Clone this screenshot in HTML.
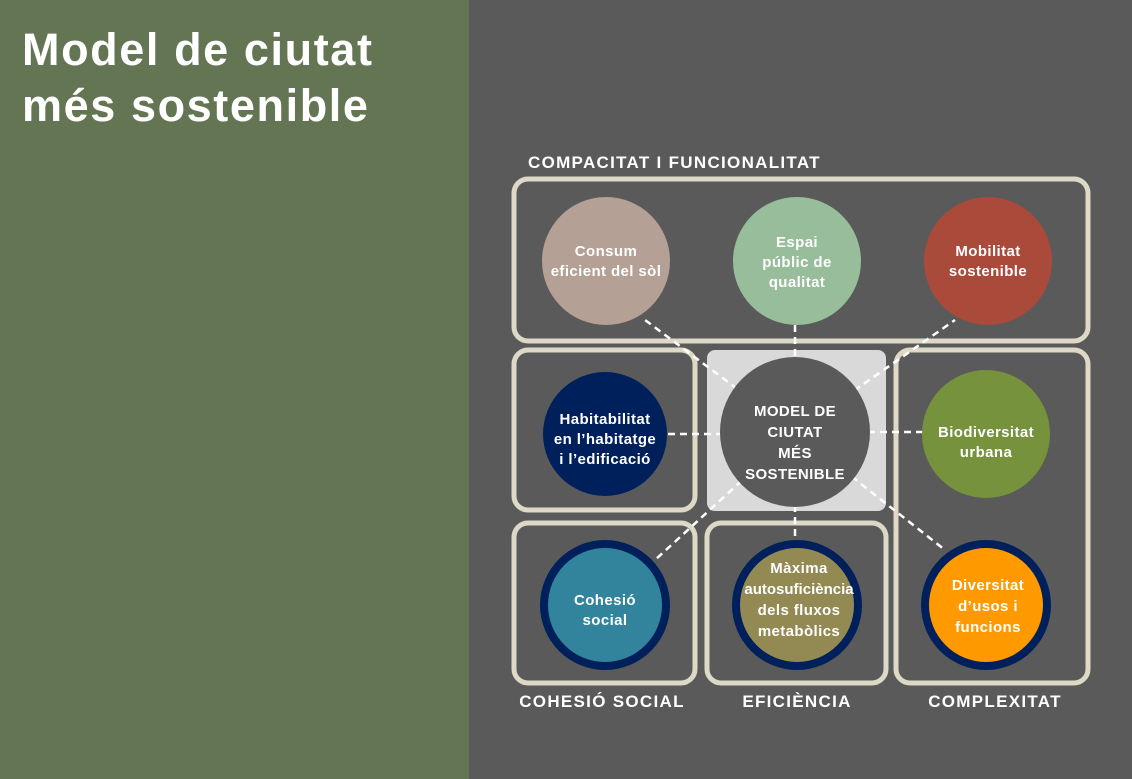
<!DOCTYPE html>
<html><head><meta charset="utf-8"><style>
body{margin:0;width:1132px;height:779px;overflow:hidden;background:#5a5a5a;font-family:"Liberation Sans",sans-serif;}
.g{position:absolute;left:0;top:0;width:469px;height:779px;background:#637553;}
h1{position:absolute;left:22px;top:22px;margin:0;color:#fff;font-size:45px;line-height:56px;font-weight:bold;letter-spacing:1.6px;}
</style></head><body>
<div class="g"></div>
<h1>Model de ciutat<br>més sostenible</h1>
<svg width="1132" height="779" style="position:absolute;left:0;top:0" font-family="Liberation Sans, sans-serif" font-weight="bold">
<g fill="none" stroke="#ddd9c6" stroke-width="5">
<rect x="514" y="179" width="574" height="162" rx="14"/>
<rect x="514" y="350" width="181" height="160" rx="14"/>
<rect x="896" y="350" width="192" height="333" rx="14"/>
<rect x="514" y="523" width="181" height="160" rx="14"/>
<rect x="707" y="523" width="179" height="160" rx="14"/>
</g>
<rect x="707" y="350" width="179" height="161" rx="8" fill="#d9d9d9"/>
<g stroke="#fff" stroke-width="2.5" stroke-dasharray="7,5">
<line x1="795" y1="432" x2="645" y2="320"/>
<line x1="795" y1="325" x2="795" y2="360"/>
<line x1="795" y1="432" x2="955" y2="320"/>
<line x1="668" y1="434" x2="725" y2="434"/>
<line x1="868" y1="432" x2="935" y2="432"/>
<line x1="795" y1="432" x2="655" y2="560"/>
<line x1="795" y1="505" x2="795" y2="540"/>
<line x1="795" y1="432" x2="945" y2="550"/>
</g>
<circle cx="795" cy="432" r="75" fill="#5a5a5a"/>
<circle cx="606" cy="261" r="64" fill="#b5a095"/>
<circle cx="797" cy="261" r="64" fill="#97bd9a"/>
<circle cx="988" cy="261" r="64" fill="#a94a3a"/>
<circle cx="605" cy="434" r="62" fill="#00205b"/>
<circle cx="986" cy="434" r="64" fill="#76923c"/>
<circle cx="605" cy="605" r="65" fill="#00205b"/><circle cx="605" cy="605" r="57" fill="#31849b"/>
<circle cx="797" cy="605" r="65" fill="#00205b"/><circle cx="797" cy="605" r="57" fill="#938953"/>
<circle cx="986" cy="605" r="65" fill="#00205b"/><circle cx="986" cy="605" r="57" fill="#ff9900"/>
<g fill="#fff" text-anchor="middle" font-size="15" letter-spacing="0.4">
<text x="606" y="256">Consum</text><text x="606" y="276">eficient del sòl</text>
<text x="797" y="247">Espai</text><text x="797" y="267">públic de</text><text x="797" y="287">qualitat</text>
<text x="988" y="256">Mobilitat</text><text x="988" y="276">sostenible</text>
<text x="605" y="424">Habitabilitat</text><text x="605" y="444">en l’habitatge</text><text x="605" y="464">i l’edificació</text>
<text x="986" y="437">Biodiversitat</text><text x="986" y="457">urbana</text>
<text x="605" y="605">Cohesió</text><text x="605" y="625">social</text>
<text x="799" y="573">Màxima</text><text x="799" y="594" letter-spacing="0">autosuficiència</text><text x="799" y="615">dels fluxos</text><text x="799" y="636">metabòlics</text>
<text x="988" y="590">Diversitat</text><text x="988" y="611">d’usos i</text><text x="988" y="632">funcions</text>
<text x="795" y="416">MODEL DE</text><text x="795" y="437">CIUTAT</text><text x="795" y="458">MÉS</text><text x="795" y="479">SOSTENIBLE</text>
</g>
<g fill="#fff" font-size="17" letter-spacing="1.3">
<text x="528" y="168">COMPACITAT I FUNCIONALITAT</text>
<text x="602" y="707" text-anchor="middle">COHESIÓ SOCIAL</text>
<text x="797" y="707" text-anchor="middle">EFICIÈNCIA</text>
<text x="995" y="707" text-anchor="middle">COMPLEXITAT</text>
</g>
</svg>
</body></html>
